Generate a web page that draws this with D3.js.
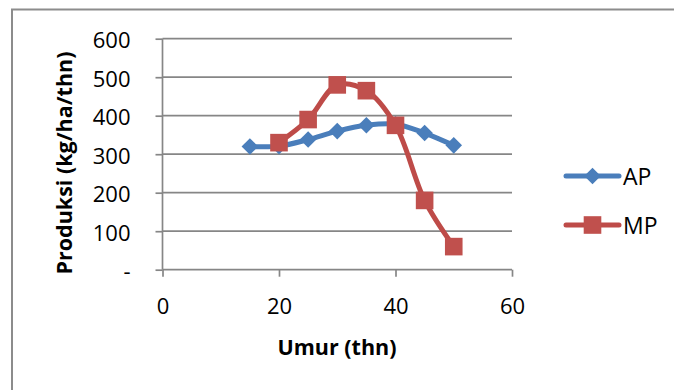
<!DOCTYPE html>
<html>
<head>
<meta charset="utf-8">
<script src="https://cdn.jsdelivr.net/npm/d3@7"></script>
<style>
  html, body { margin: 0; padding: 0; background: #fff; }
  svg { display: block; }
  text { font-family: "Open Sans", "Liberation Sans", sans-serif; fill: #000; }
</style>
</head>
<body>
<svg id="chart" width="674" height="390"></svg>
<script>
// Umur tanaman (tahun) dan produksi rata-rata / marjinal
const ageAP = [15, 20, 25, 30, 35, 40, 45, 50];
const valuesAP = [320, 321, 338, 360, 375, 378, 355, 323];
const ageMP = [20, 25, 30, 35, 40, 45, 50];
const valuesMP = [330, 390, 480, 465, 375, 180, 60];

const xTicks = [0, 20, 40, 60];
const yTicks = [0, 100, 200, 300, 400, 500, 600];
const yTickLabels = ["-", "100", "200", "300", "400", "500", "600"];

const seriesNames = ["AP", "MP"];
const seriesColors = ["#4A7EBB", "#BE4B48"];
const markerFill = ["#4A7EBB", "#C0504D"];

const svg = d3.select("#chart");

// outer chart frame
svg.append("rect")
  .attr("x", 12).attr("y", 9.5)
  .attr("width", 700).attr("height", 420)
  .attr("fill", "none")
  .attr("stroke", "#8C8C8C")
  .attr("stroke-width", 2);

const x = d3.scaleLinear().domain([0, 60]).range([162.5, 512]);
const y = d3.scaleLinear().domain([0, 600]).range([269.7, 38.7]);

// horizontal gridlines
svg.append("g")
  .selectAll("line")
  .data(yTicks.filter(d => d > 0))
  .join("line")
  .attr("x1", x(0)).attr("x2", x(60))
  .attr("y1", d => y(d)).attr("y2", d => y(d))
  .attr("stroke", "#868686")
  .attr("stroke-width", 1.7);

// y axis
const yAxis = d3.axisLeft(y)
  .tickValues(yTicks)
  .tickSize(7)
  .tickFormat((d, i) => yTickLabels[i]);
const gy = svg.append("g").attr("transform", `translate(${x(0)},0)`).call(yAxis);
gy.select(".domain").attr("stroke", "#868686").attr("stroke-width", 1.7)
  .attr("d", `M0,${y(600)}V${y(0)}`);
gy.selectAll(".tick line").attr("stroke", "#868686").attr("stroke-width", 1.7);
gy.selectAll(".tick text")
  .attr("x", -32)
  .attr("dy", "0.4em")
  .attr("font-size", 22)
  .attr("font-family", "Open Sans, sans-serif")
  .attr("fill", "#000");

// x axis
const xAxis = d3.axisBottom(x)
  .tickValues(xTicks)
  .tickSize(7)
  .tickFormat(d3.format("d"));
const gx = svg.append("g").attr("transform", `translate(0,${y(0)})`).call(xAxis);
gx.select(".domain").attr("stroke", "#868686").attr("stroke-width", 1.7)
  .attr("d", `M${x(0)},0H${x(60)}`);
gx.selectAll(".tick line").attr("stroke", "#868686").attr("stroke-width", 1.7);
gx.selectAll(".tick text")
  .attr("y", 44)
  .attr("dy", 0)
  .attr("font-size", 22)
  .attr("font-family", "Open Sans, sans-serif")
  .attr("fill", "#000");

// axis titles
svg.append("text")
  .attr("x", 337).attr("y", 355)
  .attr("text-anchor", "middle")
  .attr("font-size", 21.5)
  .attr("font-weight", "bold")
  .text("Umur (thn)");

svg.append("text")
  .attr("transform", "translate(72,163) rotate(-90)")
  .attr("text-anchor", "middle")
  .attr("font-size", 21.5)
  .attr("font-weight", "bold")
  .text("Produksi (kg/ha/thn)");

// series
const line = d3.line()
  .x(d => x(d[0]))
  .y(d => y(d[1]))
  .curve(d3.curveCatmullRom.alpha(0.5));

const apData = ageAP.map((a, i) => [a, valuesAP[i]]);
const mpData = ageMP.map((a, i) => [a, valuesMP[i]]);

const diamond = d3.symbol().type(d3.symbolDiamond2).size(175);
const square = d3.symbol().type(d3.symbolSquare).size(310);

svg.append("path")
  .datum(apData)
  .attr("d", line)
  .attr("fill", "none")
  .attr("stroke", seriesColors[0])
  .attr("stroke-width", 5)
  .attr("stroke-linejoin", "round")
  .attr("stroke-linecap", "round");

svg.append("g")
  .selectAll("path")
  .data(apData)
  .join("path")
  .attr("transform", d => `translate(${x(d[0])},${y(d[1])})`)
  .attr("d", diamond)
  .attr("fill", markerFill[0]);

svg.append("path")
  .datum(mpData)
  .attr("d", line)
  .attr("fill", "none")
  .attr("stroke", seriesColors[1])
  .attr("stroke-width", 5)
  .attr("stroke-linejoin", "round")
  .attr("stroke-linecap", "round");

svg.append("g")
  .selectAll("path")
  .data(mpData)
  .join("path")
  .attr("transform", d => `translate(${x(d[0])},${y(d[1])})`)
  .attr("d", square)
  .attr("fill", markerFill[1]);

// legend
const legendY = [176, 225];
const legend = svg.append("g");
seriesNames.forEach((name, i) => {
  const g = legend.append("g").attr("transform", `translate(0,${legendY[i]})`);
  g.append("line")
    .attr("x1", 566).attr("x2", 619)
    .attr("stroke", seriesColors[i])
    .attr("stroke-width", 5)
    .attr("stroke-linecap", "round");
  g.append("path")
    .attr("transform", "translate(592.5,0)")
    .attr("d", i === 0 ? diamond : square)
    .attr("fill", markerFill[i]);
  g.append("text")
    .attr("x", 623).attr("y", 8.5)
    .attr("font-size", 23)
    .text(name);
});
</script>
</body>
</html>
